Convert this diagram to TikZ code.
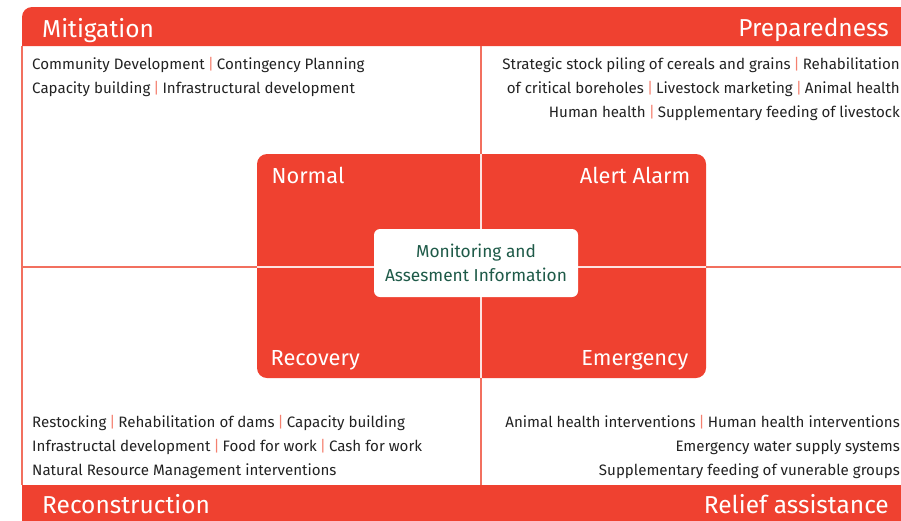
\documentclass[tikz,border=0pt]{standalone}
\usepackage{fontspec}
\setmainfont{Fira Sans}
\definecolor{bandred}{HTML}{EF4130}
\definecolor{linered}{HTML}{F2705F}
\definecolor{sepred}{HTML}{F4806F}
\definecolor{bodytxt}{HTML}{222222}
\definecolor{mongreen}{HTML}{1E5A48}
\newcommand{\sep}{\hspace{0.2em}\textcolor{sepred}{|}\hspace{0.2em}}
\begin{document}
\begin{tikzpicture}[x=1pt,y=-1pt,
  head/.style={inner sep=0pt, text=white, font=\fontsize{24.5}{30}\selectfont},
  phase/.style={inner sep=0pt, text=white, font=\fontsize{21.8}{28}\selectfont},
  body/.style={inner sep=0pt, text=bodytxt, font=\fontsize{15.1}{24}\selectfont},
  divider/.style={linered, line width=2pt},
  innerdiv/.style={white!85!bandred, line width=2pt}]
\useasboundingbox (0,0) rectangle (901,520);
% bands
\fill[bandred] (22,46) [rounded corners=10pt] -- (22,7) [sharp corners] -- (912,7) -- (912,46) -- cycle;
\fill[bandred] (22,485) rectangle (912,530);
% frame and dividers
\coordinate (ftop) at (22,46);
\coordinate (fbot) at (22,485);
\coordinate (vtop) at (481,46);
\coordinate (vbot) at (481,485);
\coordinate (hleft) at (22,267);
\coordinate (hright) at (912,267);
\draw[divider] (ftop) -- (fbot);
\draw[divider] (vtop) -- (vbot);
\draw[divider] (hleft) -- (hright);
% centre box
\node[fill=bandred, rounded corners=10pt, minimum width=449pt, minimum height=224pt, inner sep=0pt] (phases) at (481.5,266) {};
\draw[innerdiv] (phases.north -| vtop) -- (phases.south -| vtop);
\draw[innerdiv] (phases.west |- hleft) -- (phases.east |- hleft);
\node[fill=white, rounded corners=6pt, minimum width=204pt, minimum height=68pt, inner sep=0pt] (mon) at (476,263) {};
\node[inner sep=0pt, text=mongreen, font=\fontsize{17.3}{24.4}\selectfont, anchor=base] (mon1) at (476,257.3) {Monitoring and};
\node[inner sep=0pt, text=mongreen, font=\fontsize{17.3}{24.4}\selectfont, anchor=base] (mon2) at (476,281.7) {Assesment Information};
% phase labels
\node[phase, anchor=base west] (normal) at (271.5,183) {Normal};
\node[phase, anchor=base east] (alert) at (690.5,183) {Alert Alarm};
\node[phase, anchor=base west] (recovery) at (270.5,365) {Recovery};
\node[phase, anchor=base east] (emerg) at (688.5,365) {Emergency};
% headers
\node[head, anchor=base west] (mitig) at (42,37) {Mitigation};
\node[head, anchor=base east] (prep) at (889,36.5) {Preparedness};
\node[head, anchor=base west] (recon) at (42,513) {Reconstruction};
\node[head, anchor=base east] (relief) at (889,513) {Relief assistance};
% mitigation text
\node[body, anchor=base west] (m1) at (32,69) {Community Development\sep Contingency Planning};
\node[body, anchor=base west] (m2) at (32,93) {Capacity building\sep Infrastructural development};
% preparedness text
\node[body, anchor=base east] (p1) at (900,69) {Strategic stock piling of cereals and grains\sep Rehabilitation};
\node[body, anchor=base east] (p2) at (900,93) {of critical boreholes\sep Livestock marketing\sep Animal health};
\node[body, anchor=base east] (p3) at (900,117) {Human health\sep Supplementary feeding of livestock};
% reconstruction text
\node[body, anchor=base west] (r1) at (32,427) {Restocking\sep Rehabilitation of dams\sep Capacity building};
\node[body, anchor=base west] (r2) at (32,451) {Infrastructal development\sep Food for work\sep Cash for work};
\node[body, anchor=base west] (r3) at (32,475) {Natural Resource Management interventions};
% relief text
\node[body, anchor=base east] (e1) at (900,427) {Animal health interventions\sep Human health interventions};
\node[body, anchor=base east] (e2) at (900,451) {Emergency water supply systems};
\node[body, anchor=base east] (e3) at (900,475) {Supplementary feeding of vunerable groups};
\end{tikzpicture}
\end{document}
